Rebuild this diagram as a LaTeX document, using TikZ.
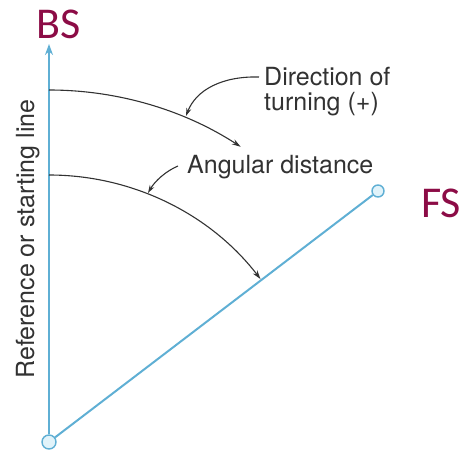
\documentclass[tikz,border=0pt]{standalone}
\usepackage{fontspec}
\setmainfont{TeX Gyre Heros}
\newfontfamily\calib{Carlito}
\usetikzlibrary{arrows.meta}
\definecolor{lineblue}{RGB}{95,175,212}
\definecolor{circfill}{RGB}{225,243,250}
\definecolor{maroon}{RGB}{140,12,70}
\definecolor{inkgray}{RGB}{50,50,50}
\tikzset{
  station/.style={circle, draw=lineblue, fill=circfill, line width=1.4pt, minimum size=12pt, inner sep=0pt},
  refline/.style={draw=lineblue, line width=2pt},
  arcline/.style={draw=inkgray, line width=1.1pt, -{Stealth[length=9pt,width=5.5pt]}},
  leader/.style={draw=inkgray, line width=1.1pt, -{Stealth[length=8pt,width=5pt]}},
  lbl/.style={text=inkgray, inner sep=0pt, font=\fontsize{25}{28}\selectfont},
  bigl/.style={text=maroon, inner sep=0pt, font=\calib\fontsize{44}{44}\selectfont}
}
\begin{document}
\begin{tikzpicture}[x=1pt,y=-1pt]
\useasboundingbox (0,0) rectangle (463,455);
% stations
\node[station, minimum size=14pt] (O) at (49,442) {};
\node[station] (F) at (378,191) {};
\coordinate (BStip) at (49,44);
% lines
\draw[refline, -{Stealth[length=11pt,width=8pt]}] (O) -- (BStip);
\draw[refline] (O) -- (F);
% arcs
\coordinate (a1s) at (49,90);
\coordinate (a2s) at (49,175);
\draw[arcline] (a1s) arc[start angle=-90, end angle=-57, radius=352];
\draw[arcline] (a2s) arc[start angle=-90, end angle=-37.6, radius=267];
% labels
\node[bigl, anchor=base west] (BS) at (36,38) {BS};
\node[bigl, anchor=base west] (FS) at (421,217) {FS};
\node[lbl, anchor=base west] (dir1) at (264,85) {Direction of};
\node[lbl, anchor=base west] (dir2) at (264,110) {turning (+)};
\node[lbl, anchor=base west] (ang) at (187,173) {Angular distance};
\node[lbl, anchor=base, rotate=90] (ref) at (34,239) {Reference or starting line};
% leaders
\coordinate (l1s) at (259,77);
\coordinate (l2s) at (178,166);
\coordinate (t1) at (186,116);
\coordinate (t2) at (148,193);
\draw[leader] (l1s) .. controls (222,76) and (196,90) .. (t1);
\draw[leader] (l2s) .. controls (166,171) and (155,181) .. (t2);
\end{tikzpicture}
\end{document}
